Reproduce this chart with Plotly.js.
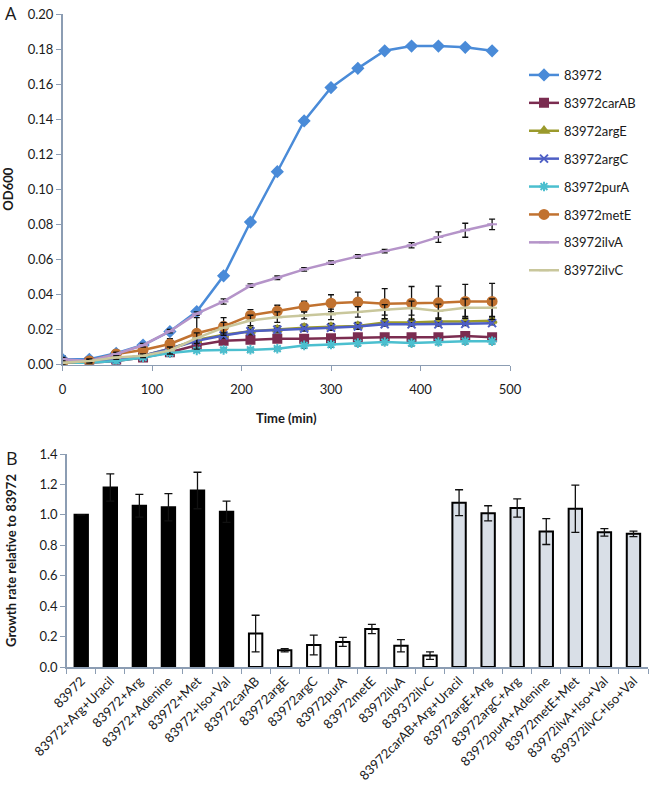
<!DOCTYPE html>
<html>
<head>
<meta charset="utf-8">
<script src="https://cdn.plot.ly/plotly-3.0.1.min.js"></script>
<style>html,body{margin:0;padding:0;background:#fff;}#chart{width:650px;height:790px;}</style>
</head>
<body>
<div id="chart"></div>
<script>
// ---- Panel A: growth curves ----
const timeMin = [0,30,60,90,120,150,180,210,240,270,300,330,360,390,420,450,480];
const seriesNames = ["83972","83972carAB","83972argE","83972argC","83972purA","83972metE","83972ilvA","83972ilvC"];
const od_83972 = [0.003,0.003,0.0064,0.0111,0.0188,0.0302,0.0506,0.0813,0.110,0.139,0.158,0.169,0.179,0.1817,0.1817,0.181,0.179];
const od_carAB = [0.001,0.001,0.002,0.004,0.007,0.011,0.0135,0.0141,0.0147,0.0147,0.015,0.0156,0.0156,0.0156,0.0156,0.0162,0.0156];
const od_argE  = [0.001,0.002,0.003,0.005,0.009,0.014,0.017,0.019,0.020,0.021,0.0215,0.022,0.024,0.024,0.0245,0.0245,0.025];
const od_argC  = [0.001,0.002,0.003,0.005,0.009,0.0135,0.0165,0.019,0.0198,0.0205,0.021,0.0217,0.023,0.0229,0.0229,0.0232,0.0236];
const od_purA  = [0.001,0.001,0.002,0.004,0.0065,0.008,0.0083,0.0084,0.009,0.0109,0.0114,0.0122,0.0128,0.0122,0.0128,0.0133,0.0133];
const od_metE  = [0.001,0.002,0.006,0.0083,0.0117,0.0178,0.0217,0.028,0.0305,0.0331,0.035,0.0356,0.0347,0.035,0.0352,0.036,0.036];
const od_ilvA  = [0.003,0.002,0.006,0.011,0.019,0.029,0.036,0.045,0.0495,0.0543,0.0581,0.0617,0.0647,0.068,0.0727,0.0766,0.080];
const od_ilvC  = [0.001,0.002,0.004,0.005,0.008,0.015,0.021,0.0251,0.027,0.028,0.0286,0.030,0.0312,0.0322,0.0305,0.0324,0.0324];

const err_83972 = [0.002,0.001,0.001,0.001,0.001,0.001,0.0015,0.0015,0.001,0.0015,0.001,0.001,0.001,0.001,0.001,0.001,0.001];
const err_carAB = [0.001,0.001,0.001,0.001,0.001,0.001,0.001,0.001,0.001,0.001,0.001,0.001,0.001,0.001,0.001,0.001,0.001];
const err_argE  = [0.001,0.001,0.001,0.001,0.001,0.002,0.002,0.002,0.002,0.002,0.002,0.002,0.002,0.002,0.002,0.002,0.002];
const err_argC  = [0.001,0.001,0.001,0.001,0.001,0.001,0.001,0.001,0.001,0.001,0.001,0.001,0.001,0.001,0.001,0.001,0.001];
const err_purA  = [0.001,0.001,0.001,0.001,0.001,0.001,0.001,0.001,0.001,0.0015,0.0015,0.0015,0.0015,0.0015,0.0015,0.0015,0.0015];
const err_metE  = [0.001,0.001,0.002,0.002,0.003,0.009,0.005,0.0033,0.0033,0.003,0.0048,0.0057,0.0086,0.0095,0.0095,0.0097,0.0103];
const err_ilvA  = [0.001,0.001,0.001,0.001,0.001,0.001,0.0015,0.001,0.001,0.001,0.001,0.001,0.001,0.0015,0.003,0.004,0.003];
const err_ilvC  = [0.001,0.001,0.001,0.001,0.002,0.003,0.003,0.003,0.003,0.002,0.003,0.003,0.003,0.004,0.004,0.005,0.005];

const odSeries = [od_83972,od_carAB,od_argE,od_argC,od_purA,od_metE,od_ilvA,od_ilvC];
const odErrors = [err_83972,err_carAB,err_argE,err_argC,err_purA,err_metE,err_ilvA,err_ilvC];

// ---- Panel B: relative growth rates ----
const strainLabels = ["83972","83972+Arg+Uracil","83972+Arg","83972+Adenine","83972+Met","83972+Iso+Val",
  "83972carAB","83972argE","83972argC","83972purA","83972metE","83972ilvA","839372ilvC",
  "83972carAB+Arg+Uracil","83972argE+Arg","83972argC+Arg","83972purA+Adenine","83972metE+Met","83972ilvA+Iso+Val","839372ilvC+Iso+Val"];
const growthRate = [1.00,1.18,1.06,1.05,1.16,1.02, 0.22,0.11,0.145,0.165,0.25,0.14,0.075, 1.08,1.01,1.045,0.89,1.04,0.885,0.875];
const growthErr  = [0,0.09,0.075,0.09,0.12,0.07, 0.12,0.01,0.065,0.03,0.03,0.04,0.025, 0.085,0.05,0.06,0.085,0.155,0.025,0.018];
const strainGroup = [0,0,0,0,0,0, 1,1,1,1,1,1,1, 2,2,2,2,2,2,2];

// ---- styles ----
const lineColors = ["#4a8bd8","#7b2c50","#9b9a2c","#4e5fc5","#4bbfcf","#c17230","#b594c9","#c9c79c"];
const markerSymbols = ["diamond","square","triangle-up","x-thin-open","asterisk-open","circle","line-ew-open","line-ew-open"];
const markerSizes = [8,8,8,8,8,9,7,7];
const groupFill = ["#000000","#ffffff","#d9dfe7"];
const axisCol = "#8c9db3";
const fontFam = "Lato, 'Open Sans', sans-serif";
const txtCol = "#1a1a1a";

const traces = [];
seriesNames.forEach((name,i) => {
  traces.push({
    type: "scatter", mode: "lines+markers", name: name,
    x: timeMin, y: odSeries[i], xaxis: "x", yaxis: "y",
    legendgroup: "g"+i,
    line: {color: lineColors[i], width: 2.5},
    marker: {symbol: markerSymbols[i], size: markerSizes[i], color: lineColors[i],
             line: {color: lineColors[i], width: 2}},
    error_y: {type: "data", array: odErrors[i], visible: true, color: "#111", thickness: 1.3, width: 3}
  });
});

traces.push({
  type: "bar", x: strainLabels, y: growthRate, xaxis: "x2", yaxis: "y2", showlegend: false,
  marker: {color: strainGroup.map(g => groupFill[g]), line: {color: "#000", width: 2}},
  error_y: {type: "data", array: growthErr, visible: true, color: "#111", thickness: 1.3, width: 4}
});

const W = 650, H = 790;
const layout = {
  width: W, height: H,
  margin: {l:0, r:0, t:0, b:0},
  paper_bgcolor: "#fff", plot_bgcolor: "rgba(0,0,0,0)",
  font: {family: fontFam, size: 13, color: txtCol},
  showlegend: true,
  legend: {x: 524/W, y: 1 - 60/H, xanchor: "left", yanchor: "top",
           font: {family: fontFam, size: 13, color: txtCol},
           tracegroupgap: 8, bgcolor: "rgba(0,0,0,0)"},
  xaxis: {domain: [62.5/W, 510/W], anchor: "y", range: [0,500], dtick: 100,
          showline: true, linecolor: axisCol, linewidth: 1.5, ticks: "outside", tickcolor: axisCol, ticklen: 5,
          showgrid: false, zeroline: false, ticklabelstandoff: 7,
          title: {text: "<b>Time (min)</b>", font: {size: 13, family: fontFam}, standoff: 18}},
  yaxis: {domain: [1 - 364.5/H, 1 - 14/H], anchor: "x", range: [0,0.2], dtick: 0.02, tickformat: ".2f",
          showline: true, linecolor: axisCol, linewidth: 1.5, ticks: "outside", tickcolor: axisCol, ticklen: 5,
          showgrid: false, zeroline: false,
          title: {text: "<b>OD600</b>", font: {size: 13, family: fontFam}, standoff: 30}},
  xaxis2: {domain: [66.7/W, 648/W], anchor: "y2", type: "category", tickangle: -45,
           showline: true, linecolor: axisCol, linewidth: 1.5, ticks: "outside", tickcolor: axisCol, ticklen: 5,
           tickson: "boundaries", showgrid: false, zeroline: false},
  yaxis2: {domain: [1 - 667/H, 1 - 454/H], anchor: "x2", range: [0,1.4], dtick: 0.2, tickformat: ".1f",
           showline: true, linecolor: axisCol, linewidth: 1.5, ticks: "outside", tickcolor: axisCol, ticklen: 5,
           showgrid: false, zeroline: false,
           title: {text: "<b>Growth rate relative to 83972</b>", font: {size: 13, family: fontFam}, standoff: 20}},
  bargap: 0.54,
  annotations: [
    {text: "A", xref: "paper", yref: "paper", x: 4/W, y: 1, xanchor: "left", yanchor: "top",
     showarrow: false, borderpad: 0, font: {size: 18, family: "'Open Sans', sans-serif", color: txtCol}},
    {text: "B", xref: "paper", yref: "paper", x: 4/W, y: 1 - 458/H, xanchor: "left", yanchor: "middle",
     showarrow: false, font: {size: 18, family: "'Open Sans', sans-serif", color: txtCol}}
  ]
};

Plotly.newPlot("chart", traces, layout, {displayModeBar: false, staticPlot: true});
</script>
</body>
</html>
